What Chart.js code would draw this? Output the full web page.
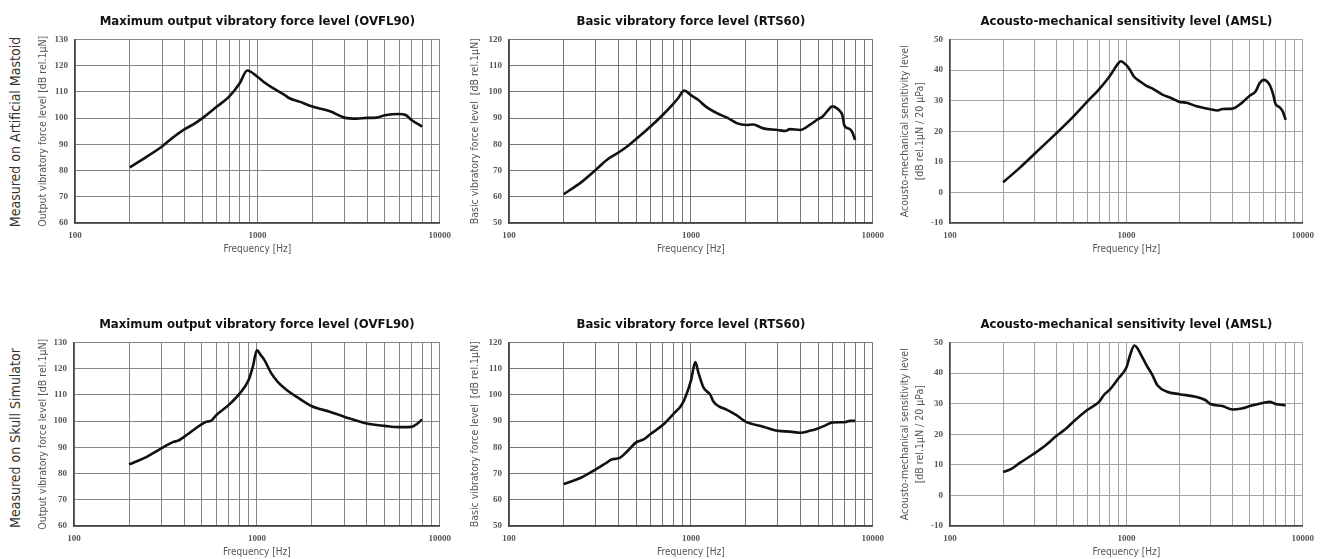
<!DOCTYPE html>
<html><head><meta charset="utf-8">
<script src="https://cdn.jsdelivr.net/npm/chart.js@4.4.1/dist/chart.umd.min.js"></script>
<style>
html,body{margin:0;padding:0;background:#fff;width:1330px;height:559px;overflow:hidden;}
canvas{position:absolute;}
.row{position:absolute;font-family:"Liberation Sans Narrow","DejaVu Sans Condensed",sans-serif;font-size:14px;color:#333;white-space:nowrap;transform:translate(-50%,-50%) rotate(-90deg);}
</style></head><body>
<div class="row" style="left:15px;top:132px">Measured on Artificial Mastoid</div>
<div class="row" style="left:15px;top:438px">Measured on Skull Simulator</div>
<canvas id="c1"></canvas><canvas id="c2"></canvas><canvas id="c3"></canvas>
<canvas id="c4"></canvas><canvas id="c5"></canvas><canvas id="c6"></canvas>
<script>
// ---- data ----
const xGridTicks = [100,200,300,400,500,600,700,800,900,1000,2000,3000,4000,5000,6000,7000,8000,9000,10000];
const xLabelTicks = [100,1000,10000];

const ovflMastoidFreq  = [200,250,300,350,400,450,500,600,700,800,880,1000,1100,1200,1400,1500,1700,2000,2500,3000,3500,4000,4500,5000,6000,6500,7000,8000];
const ovflMastoidLevel = [81.2,85.5,89.2,93,95.8,97.8,100,104.4,108.2,113.3,118.2,115.8,113.5,111.7,109,107.6,106.3,104.4,102.6,100.2,99.8,100.1,100.2,101.1,101.6,101.2,99.3,96.8];

const rtsMastoidFreq  = [200,250,300,350,400,450,500,600,700,800,850,920,1000,1100,1200,1400,1600,1800,2000,2200,2500,3000,3300,3500,4000,4500,5000,5300,5800,6000,6500,6800,7000,7400,7700,8000];
const rtsMastoidLevel = [61,65.6,70.3,74.4,76.9,79.4,82,86.8,91.2,95.4,97.6,100.5,98.8,96.9,94.6,91.8,90,88,87.4,87.6,86.1,85.5,85.1,85.8,85.5,87.4,89.6,90.6,93.8,94.5,93.2,91.2,87,86,84.8,81.7];

const amslMastoidFreq  = [200,250,300,400,500,600,700,800,900,930,1000,1050,1100,1200,1300,1400,1600,1800,2000,2200,2500,3000,3300,3500,4000,4500,5000,5400,5700,6000,6500,6800,7000,7400,7700,8000];
const amslMastoidLevel = [3.3,8.2,12.5,19.3,24.8,29.7,33.7,37.8,42.2,42.9,41.6,40,38,36.2,34.8,34,32,30.8,29.6,29.3,28.2,27.2,26.8,27.3,27.4,29.2,31.6,33,35.8,36.8,35.1,32,29,27.8,26.5,23.7];

const ovflSkullFreq  = [200,250,300,350,370,400,450,500,530,560,600,700,800,900,950,1000,1050,1100,1200,1300,1500,1700,2000,2500,3000,4000,5000,6000,7000,7500,8000];
const ovflSkullLevel = [83.5,86.4,89.6,92.1,92.5,94,96.6,98.9,99.8,100.1,102.3,106.1,110.3,115.6,120.7,127,125.2,123.3,118.2,115,111.2,108.7,105.7,103.6,101.7,99.1,98.2,97.7,97.8,98.9,100.6];

const rtsSkullFreq  = [200,250,300,350,370,400,450,500,550,600,700,800,900,1000,1058,1100,1170,1280,1330,1420,1570,1780,2000,2500,3000,3500,4000,4500,5000,5500,6000,7000,7500,8000];
const rtsSkullLevel = [66,68.5,71.6,74.5,75.5,75.8,78.7,81.9,83,85.1,88.5,92.7,96.8,105.4,112.5,108.5,103,100,97.5,95.7,94.4,92.3,89.8,87.9,86.3,86,85.6,86.3,87.2,88.4,89.5,89.6,90.1,90.1];

const amslSkullFreq  = [200,220,250,300,350,400,450,500,600,700,750,800,900,1000,1050,1110,1150,1200,1300,1400,1500,1700,2000,2500,2800,3000,3500,4000,4500,5000,6000,6500,7000,8000];
const amslSkullLevel = [7.7,8.5,10.7,13.7,16.5,19.4,21.6,24.1,27.9,30.6,33,34.4,38.2,41.8,45.9,49,48.3,46.4,42.6,39.5,36,33.9,33.1,32.2,31.2,29.9,29.2,28.1,28.4,29.2,30.3,30.6,29.9,29.5];

const titles = {
  ovfl: 'Maximum output vibratory force level (OVFL90)',
  rts: 'Basic vibratory force level (RTS60)',
  amsl: 'Acousto-mechanical sensitivity level (AMSL)'
};
const yTitles = {
  ovfl: 'Output vibratory force level [dB rel.1µN]',
  rts: 'Basic vibratory force level  [dB rel.1µN]',
  amsl: ['Acousto-mechanical sensitivity level','[dB rel.1µN / 20 µPa]']
};

// ---- rendering ----
const NARROW = '"Liberation Sans Narrow","DejaVu Sans Condensed",sans-serif';
const SERIF = '"Liberation Serif","DejaVu Serif",serif';

function build(p){
  const cv = document.getElementById(p.id);
  const W = p.plotRight + 13 - p.canvasLeft, H = 259;
  cv.width = W; cv.height = H;
  cv.style.left = p.canvasLeft + 'px'; cv.style.top = p.top + 'px';
  cv.style.width = W + 'px'; cv.style.height = H + 'px';
  const yW = p.plotLeft - p.canvasLeft;
  new Chart(cv, {
    type: 'line',
    data: { datasets: [{
      data: p.freq.map((f,i)=>({x:f, y:p.level[i]})),
      borderColor: '#111', borderWidth: 2.6, pointRadius: 0,
      cubicInterpolationMode: 'monotone', fill: false
    }]},
    options: {
      responsive: false, animation: false, devicePixelRatio: 1,
      layout: { padding: { left: 0, right: 13, top: 0, bottom: 0 } },
      plugins: {
        legend: { display: false }, tooltip: { enabled: false },
        title: { display: true, text: p.title, fullSize: false, color: '#111',
          font: { family: NARROW, size: 13, weight: 'bold', lineHeight: 1.2 },
          padding: { top: 14.2, bottom: 9.7 } }
      },
      scales: {
        x: {
          type: 'logarithmic', min: 100, max: 10000,
          afterBuildTicks: s => { s.ticks = xGridTicks.map(v => ({ value: v })); },
          afterFit: s => { s.height = 36; },
          grid: { color: p.grid, lineWidth: 1, drawTicks: false },
          border: { color: '#444', width: 1.5 },
          ticks: { autoSkip: false, maxRotation: 0, minRotation: 0, padding: 7, color: '#555',
            font: { family: SERIF, size: 9, weight: 'bold' },
            callback: v => xLabelTicks.includes(v) ? String(v) : '' },
          title: { display: true, text: 'Frequency [Hz]', color: '#555',
            font: { family: NARROW, size: 10, lineHeight: 1.2 }, padding: { top: 0, bottom: 3.5 } }
        },
        y: {
          min: p.yMin, max: p.yMax,
          afterFit: s => { s.width = yW; },
          grid: { color: p.grid, lineWidth: 1, drawTicks: false },
          border: { color: '#444', width: 1.5 },
          ticks: { stepSize: 10, padding: 7, color: '#555', font: { family: SERIF, size: 9, weight: 'bold' } },
          title: { display: true, text: p.yTitle, color: '#555',
            font: { family: NARROW, size: 10.5, lineHeight: p.yLH || 1.2 }, padding: { top: p.yPad, bottom: 0 } }
        }
      }
    }
  });
}

const rows = [0, 303];
build({id:'c1', top:rows[0], canvasLeft:25, plotLeft:75, plotRight:445, yMin:60, yMax:130, freq:ovflMastoidFreq, level:ovflMastoidLevel, title:titles.ovfl, yTitle:yTitles.ovfl, yPad:11.7, grid:'#858585'});
build({id:'c2', top:rows[0], canvasLeft:459, plotLeft:509, plotRight:878, yMin:50, yMax:120, freq:rtsMastoidFreq, level:rtsMastoidLevel, title:titles.rts, yTitle:yTitles.rts, yPad:9.7, grid:'#777777'});
build({id:'c3', top:rows[0], canvasLeft:890, plotLeft:950, plotRight:1308, yMin:-10, yMax:50, freq:amslMastoidFreq, level:amslMastoidLevel, title:titles.amsl, yTitle:yTitles.amsl, yPad:7.1, yLH:1.5, grid:'#a3a3a3'});
build({id:'c4', top:rows[1], canvasLeft:24, plotLeft:74, plotRight:445, yMin:60, yMax:130, freq:ovflSkullFreq, level:ovflSkullLevel, title:titles.ovfl, yTitle:yTitles.ovfl, yPad:12.7, grid:'#858585'});
build({id:'c5', top:rows[1], canvasLeft:459, plotLeft:509, plotRight:878, yMin:50, yMax:120, freq:rtsSkullFreq, level:rtsSkullLevel, title:titles.rts, yTitle:yTitles.rts, yPad:9.7, grid:'#777777'});
build({id:'c6', top:rows[1], canvasLeft:890, plotLeft:950, plotRight:1308, yMin:-10, yMax:50, freq:amslSkullFreq, level:amslSkullLevel, title:titles.amsl, yTitle:yTitles.amsl, yPad:7.1, yLH:1.5, grid:'#a3a3a3'});
</script>
</body></html>
